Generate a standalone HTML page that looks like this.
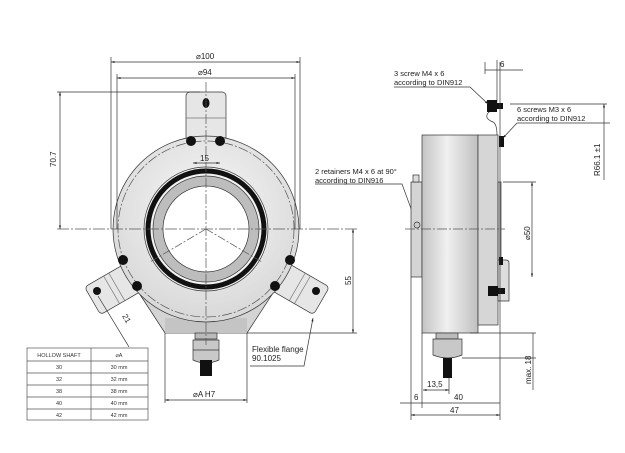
<!DOCTYPE html>
<html><head><meta charset="utf-8"><style>
html,body{margin:0;padding:0;background:#fff;}
svg{display:block;font-family:"Liberation Sans",Arial,sans-serif;}
</style></head><body>
<svg width="625" height="453" viewBox="0 0 625 453" xmlns="http://www.w3.org/2000/svg">
<defs>
<linearGradient id="cylv" x1="0" y1="0" x2="1" y2="0">
<stop offset="0" stop-color="#c4c4c4"/><stop offset="0.45" stop-color="#f0f0f0"/><stop offset="1" stop-color="#c0c0c0"/>
</linearGradient>
<radialGradient id="face" cx="0.5" cy="0.4" r="0.6">
<stop offset="0" stop-color="#f8f8f8"/><stop offset="1" stop-color="#d8d8d8"/>
</radialGradient>
<marker id="ar" viewBox="0 0 10 10" refX="10" refY="5" markerWidth="5" markerHeight="5" orient="auto-start-reverse"><path d="M0 2 L10 5 L0 8 Z" fill="#222"/></marker>
</defs>
<g stroke="#333" stroke-width="0.7" fill="none">
<rect x="186" y="92" width="40" height="52" rx="4" fill="#e6e6e6"/>
<line x1="186" y1="118" x2="226" y2="118" stroke="#777"/>
<line x1="193" y1="145" x2="193" y2="170" stroke="#555"/>
<line x1="220" y1="145" x2="220" y2="170" stroke="#555"/>
<g transform="rotate(-30 118 285)"><rect x="88" y="270" width="52" height="32" rx="4" fill="#e6e6e6"/><line x1="110" y1="270" x2="110" y2="302" stroke="#777"/><line x1="116" y1="270" x2="116" y2="302" stroke="#777"/></g>
<g transform="rotate(30 296 285)"><rect x="274" y="270" width="52" height="32" rx="4" fill="#e6e6e6"/><line x1="298" y1="270" x2="298" y2="302" stroke="#777"/><line x1="304" y1="270" x2="304" y2="302" stroke="#777"/></g>
<path d="M137 290 L165 333 L247 333 L275 290 Z" fill="#d4d4d4"/>
<rect x="165" y="318" width="82" height="15" fill="#c4c4c4" stroke="none"/>
<circle cx="206" cy="229" r="93" fill="url(#face)"/>
<circle cx="206" cy="229" r="88" stroke-dasharray="10 2 2 2" stroke="#555"/>
<circle cx="206" cy="229" r="62" fill="#f2f2f2"/>
<circle cx="206" cy="229" r="58" stroke="#111" stroke-width="5" fill="none"/>
<circle cx="206" cy="229" r="53" fill="#bdbdbd"/>
<circle cx="206" cy="229" r="43" fill="#fff"/>
<path d="M206 229 L150 262 M206 229 L262 262" stroke="#555" stroke-dasharray="8 2 2 2"/>
<g fill="#111" stroke="none">
<ellipse cx="206" cy="103" rx="3.5" ry="5"/>
<circle cx="191" cy="141" r="5"/><circle cx="220" cy="141" r="5"/>
<circle cx="123" cy="260" r="5"/><circle cx="137" cy="286" r="5"/>
<circle cx="290" cy="260" r="5"/><circle cx="275" cy="286" r="5"/>
<circle cx="97" cy="291" r="4"/><circle cx="316" cy="291" r="4"/>
</g>
<rect x="195" y="333" width="22" height="6" fill="#bbb"/>
<path d="M193 340 h26 v20 q-13 6 -26 0 Z" fill="#c8c8c8"/>
<line x1="193" y1="350" x2="219" y2="350"/>
<rect x="200" y="360" width="12" height="16" fill="#111" stroke="none"/>
<line x1="206" y1="82" x2="206" y2="345" stroke="#555" stroke-dasharray="10 2 2 2"/>
<line x1="57" y1="229" x2="358" y2="229" stroke="#555" stroke-dasharray="12 2 2 2"/>
<line x1="111" y1="57" x2="111" y2="229"/><line x1="300" y1="57" x2="300" y2="229"/>
<line x1="117" y1="74" x2="117" y2="229"/><line x1="295" y1="74" x2="295" y2="229"/>
<line x1="111" y1="62" x2="300" y2="62" marker-start="url(#ar)" marker-end="url(#ar)"/>
<line x1="117" y1="78" x2="295" y2="78" marker-start="url(#ar)" marker-end="url(#ar)"/>
<line x1="57" y1="92" x2="200" y2="92"/>
<line x1="60" y1="92" x2="60" y2="229" marker-start="url(#ar)" marker-end="url(#ar)"/>
<line x1="353" y1="229" x2="353" y2="333" marker-start="url(#ar)" marker-end="url(#ar)"/>
<line x1="247" y1="333" x2="357" y2="333"/>
<line x1="193" y1="163" x2="220" y2="163" marker-start="url(#ar)" marker-end="url(#ar)"/>
<line x1="165" y1="333" x2="165" y2="403"/><line x1="247" y1="333" x2="247" y2="403"/>
<line x1="165" y1="400" x2="247" y2="400" marker-start="url(#ar)" marker-end="url(#ar)"/>
<line x1="98" y1="296" x2="129" y2="347"/>
<polyline points="250,366 304,366 313,318" marker-end="url(#ar)"/>
<polyline points="315,184 402,184 417,225" marker-end="url(#ar)"/>
</g>
<g font-size="8" fill="#222">
<text x="196" y="59">⌀100</text>
<text x="198" y="75">⌀94</text>
<text x="200" y="161">15</text>
<text transform="translate(56 167) rotate(-90)">70.7</text>
<text transform="translate(351 285) rotate(-90)">55</text>
<text transform="translate(122 316) rotate(60)">21</text>
<text x="193" y="397">⌀A H7</text>
<text x="252" y="352">Flexible flange</text>
<text x="252" y="361">90.1025</text>
<text x="315" y="174" font-size="7.5">2 retainers M4 x 6 at 90°</text>
<text x="315" y="183" font-size="7.5">according to DIN916</text>
</g>
<g stroke="#555" stroke-width="0.7" fill="none">
<rect x="27" y="348" width="121" height="72"/>
<line x1="91" y1="348" x2="91" y2="420"/>
<line x1="27" y1="361" x2="148" y2="361"/><line x1="27" y1="373" x2="148" y2="373"/>
<line x1="27" y1="385" x2="148" y2="385"/><line x1="27" y1="397" x2="148" y2="397"/>
<line x1="27" y1="409" x2="148" y2="409"/>
</g>
<g font-size="5.5" fill="#333" text-anchor="middle">
<text x="59" y="357">HOLLOW SHAFT</text><text x="119" y="357">⌀A</text>
<text x="59" y="369">30</text><text x="119" y="369">30 mm</text>
<text x="59" y="381">32</text><text x="119" y="381">32 mm</text>
<text x="59" y="393">38</text><text x="119" y="393">38 mm</text>
<text x="59" y="405">40</text><text x="119" y="405">40 mm</text>
<text x="59" y="417">42</text><text x="119" y="417">42 mm</text>
</g>
<g stroke="#333" stroke-width="0.7">
<rect x="411" y="182" width="11" height="95" fill="#d4d4d4"/>
<rect x="413" y="175" width="6" height="7" fill="#ddd"/>
<rect x="422" y="135" width="56" height="198" fill="url(#cylv)"/>
<rect x="478" y="135" width="20" height="190" fill="#d6d6d6"/>
<rect x="498" y="182" width="3" height="95" fill="#ccc"/>
<path d="M497 60 V100 q0 8 -8 12 q-6 6 4 10 q4 2 4 13" fill="none"/>
<rect x="487" y="100" width="10" height="12" fill="#111" stroke="none"/>
<rect x="497" y="103" width="6" height="6" fill="#111" stroke="none"/>
<rect x="499" y="136" width="5" height="11" fill="#111" stroke="none"/>
<path d="M498 260 h8 q3 0 3 3 v38 h-11 Z" fill="#ddd"/>
<rect x="499" y="257" width="4" height="8" fill="#111" stroke="none"/>
<rect x="488" y="286" width="10" height="10" fill="#111" stroke="none"/>
<rect x="498" y="288" width="7" height="6" fill="#111" stroke="none"/>
<rect x="436" y="333" width="22" height="6" fill="#bbb"/>
<path d="M433 339 h29 v16 q-14 6 -29 0 Z" fill="#c8c8c8"/>
<rect x="443" y="358" width="9" height="20" fill="#111" stroke="none"/>
<circle cx="417" cy="225" r="3" fill="#ccc"/>
</g>
<g stroke="#333" stroke-width="0.7" fill="none">
<line x1="405" y1="229" x2="505" y2="229" stroke-dasharray="10 2 2 2" stroke="#555"/>
<line x1="485" y1="62" x2="485" y2="74"/><line x1="500" y1="62" x2="500" y2="420"/>
<line x1="485" y1="70" x2="523" y2="70"/>
<line x1="510" y1="104" x2="607" y2="104"/>
<line x1="604" y1="104" x2="604" y2="180" marker-start="url(#ar)"/>
<line x1="503" y1="182" x2="536" y2="182"/><line x1="532" y1="182" x2="532" y2="277" marker-start="url(#ar)" marker-end="url(#ar)"/>
<line x1="470" y1="333" x2="536" y2="333"/><line x1="462" y1="358" x2="536" y2="358"/>
<line x1="533" y1="333" x2="533" y2="390"/>
<line x1="411" y1="277" x2="411" y2="420"/><line x1="422" y1="333" x2="422" y2="408"/>
<line x1="449" y1="378" x2="449" y2="394"/>
<line x1="423" y1="390" x2="449" y2="390" marker-start="url(#ar)" marker-end="url(#ar)"/>
<line x1="400" y1="403" x2="500" y2="403"/>
<line x1="411" y1="415" x2="500" y2="415" marker-start="url(#ar)" marker-end="url(#ar)"/>
<polyline points="394,87 470,87 488,104" marker-end="url(#ar)"/>
<polyline points="517,123 610,123"/>
<line x1="517" y1="123" x2="503" y2="138" marker-end="url(#ar)"/>
</g>
<g font-size="8" fill="#222">
<text x="500" y="67">6</text>
<text transform="translate(600 176) rotate(-90)">R66.1 ±1</text>
<text transform="translate(530 240) rotate(-90)">⌀50</text>
<text transform="translate(531 384) rotate(-90)">max. 18</text>
<text x="427" y="387">13,5</text>
<text x="414" y="400">6</text>
<text x="454" y="400">40</text>
<text x="450" y="413">47</text>
<text x="394" y="76" font-size="7.5">3 screw M4 x 6</text>
<text x="394" y="85" font-size="7.5">according to DIN912</text>
<text x="517" y="112" font-size="7.5">6 screws M3 x 6</text>
<text x="517" y="121" font-size="7.5">according to DIN912</text>
</g>
</svg>
</body></html>
